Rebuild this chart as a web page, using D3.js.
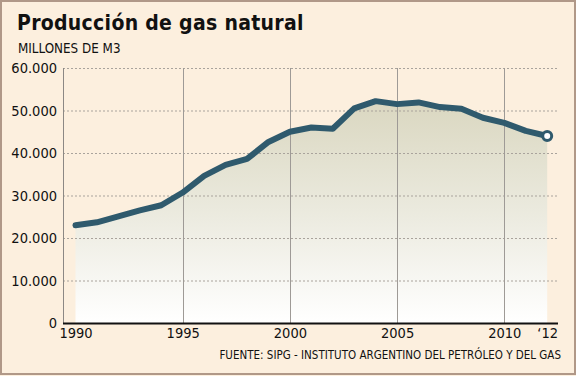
<!DOCTYPE html>
<html><head><meta charset="utf-8">
<script src="https://cdn.jsdelivr.net/npm/d3@7"></script>
<style>
html,body{margin:0;padding:0;background:#fcefde;}
svg{display:block;}
</style></head>
<body>
<svg id="chart" width="576" height="376"></svg>
<script>
const years = [1990,1991,1992,1993,1994,1995,1996,1997,1998,1999,2000,2001,2002,2003,2004,2005,2006,2007,2008,2009,2010,2011,2012];
const production = [23000,23700,25100,26500,27700,30700,34600,37200,38600,42600,45000,46000,45700,50500,52200,51500,51900,50800,50400,48300,47100,45200,44000];
const yTicks = [0,10000,20000,30000,40000,50000,60000];
const xTicks = [1990,1995,2000,2005,2010,2012];
const xTickLabels = ["1990","1995","2000","2005","2010","\u201812"];
const title = "Producción de gas natural";
const subtitle = "MILLONES DE M3";
const source = "FUENTE: SIPG - INSTITUTO ARGENTINO DEL PETRÓLEO Y DEL GAS";

const svg = d3.select("#chart");
const W = 576, H = 376;
const plotL = 63, plotR = 558, plotT = 68, plotB = 323;
const font = "'DejaVu Sans Condensed', 'DejaVu Sans', sans-serif";

svg.append("rect").attr("x",1).attr("y",1).attr("width",W-2).attr("height",H-3)
  .attr("fill","#fcefde").attr("stroke","#b09888").attr("stroke-width",2);

const x = d3.scaleLinear().domain([1990,2012]).range([75.5,547.2]);
const y = d3.scaleLinear().domain([0,60000]).range([plotB,plotT]);

const defs = svg.append("defs");
const grad = defs.append("linearGradient").attr("id","areaGrad")
  .attr("gradientUnits","userSpaceOnUse").attr("x1",0).attr("x2",0)
  .attr("y1",y(55000)).attr("y2",y(0));
grad.append("stop").attr("offset","0%").attr("stop-color","#d8d5bd");
grad.append("stop").attr("offset","55%").attr("stop-color","#ecebe0");
grad.append("stop").attr("offset","100%").attr("stop-color","#ffffff");

// area
const data = years.map((yr,i)=>({yr, v: production[i]}));
svg.append("path").datum(data)
  .attr("d", d3.area().x(d=>x(d.yr)).y0(y(0)).y1(d=>y(d.v)))
  .attr("fill","url(#areaGrad)");

// horizontal dashed grid
svg.append("g").selectAll("line").data(yTicks.filter(t=>t>0)).join("line")
  .attr("x1",plotL).attr("x2",plotR)
  .attr("y1",d=>y(d)+0.5).attr("y2",d=>y(d)+0.5)
  .attr("stroke","#a9a39c").attr("stroke-width",1).attr("stroke-dasharray","2,2");

// vertical grid
svg.append("g").selectAll("line").data([1995,2000,2005,2010]).join("line")
  .attr("x1",d=>Math.round(x(d))+0.5).attr("x2",d=>Math.round(x(d))+0.5)
  .attr("y1",plotT).attr("y2",plotB)
  .attr("stroke","#9e9a96").attr("stroke-width",1);

// y axis line
svg.append("line").attr("x1",plotL+0.5).attr("x2",plotL+0.5).attr("y1",plotT).attr("y2",plotB)
  .attr("stroke","#8c8884").attr("stroke-width",1);

// line
svg.append("path").datum(data)
  .attr("d", d3.line().x(d=>x(d.yr)).y(d=>y(d.v)))
  .attr("fill","none").attr("stroke","#2f5a6d").attr("stroke-width",6)
  .attr("stroke-linejoin","round").attr("stroke-linecap","round");

// end marker
const last = data[data.length-1];
svg.append("circle").attr("cx",x(last.yr)).attr("cy",y(last.v)).attr("r",4.5)
  .attr("fill","#ffffff").attr("stroke","#2f5a6d").attr("stroke-width",3);

// x baseline
svg.append("line").attr("x1",plotL).attr("x2",plotR).attr("y1",plotB+0.5).attr("y2",plotB+0.5)
  .attr("stroke","#111").attr("stroke-width",2);

// y tick labels
const yAxis = d3.axisLeft(y).tickValues(yTicks).tickSize(0).tickPadding(6)
  .tickFormat(d=>d3.format(",")(d).replace(/,/g,"."));
const gy = svg.append("g").attr("transform",`translate(${plotL},0)`).call(yAxis);
gy.select(".domain").remove();
gy.selectAll("text").attr("font-family",font).attr("font-size",14.5).attr("fill","#111");

// x tick labels
const xAxis = d3.axisBottom(x).tickValues(xTicks).tickSize(0).tickPadding(5)
  .tickFormat((d,i)=>xTickLabels[i]);
const gx = svg.append("g").attr("transform",`translate(0,${plotB})`).call(xAxis);
gx.select(".domain").remove();
gx.selectAll("text").attr("font-family",font).attr("font-size",14.5).attr("fill","#111");

// titles
svg.append("text").attr("x",17).attr("y",30).text(title)
  .attr("font-family",font).attr("font-weight","bold").attr("font-size",21)
  .attr("letter-spacing",0.3).attr("fill","#111");
svg.append("text").attr("x",18).attr("y",53).text(subtitle)
  .attr("font-family",font).attr("font-size",13.3).attr("fill","#111");
svg.append("text").attr("x",561).attr("y",359).attr("text-anchor","end").text(source)
  .attr("font-family",font).attr("font-size",11.5).attr("fill","#111");
</script>
</body></html>
